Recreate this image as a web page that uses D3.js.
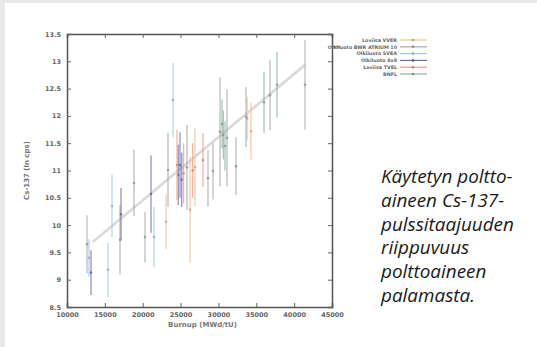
<!DOCTYPE html>
<html><head><meta charset="utf-8">
<script src="https://cdn.jsdelivr.net/npm/d3@7"></script>
<style>
html,body{margin:0;padding:0;background:#e9e9e9;}
svg{display:block;}
</style></head>
<body>
<svg id="c" width="537" height="347"></svg>
<script>
// ---- data ----
const xTicks = [10000, 15000, 20000, 25000, 30000, 35000, 40000, 45000];
const yTicks = [8.5, 9, 9.5, 10, 10.5, 11, 11.5, 12, 12.5, 13, 13.5];
const yTickLabels = ["8.5","9","9.5","10","10.5","11","11.5","12","12.5","13","13.5"];
const xLabel = "Burnup (MWd/tU)";
const yLabel = "Cs-137 (ln cps)";
const seriesNames = ["Loviisa VVER", "Olkiluoto BWR ATRIUM 10", "Olkiluoto SVEA", "Olkiluoto 8x8", "Loviisa TVEL", "BNFL"];

// series 1 (orange)
const s1Burnup = [23076, 26245, 26906, 33800, 34302];
const s1Value  = [10.06, 10.28, 11.06, 11.95, 11.72];
const s1Error  = [0.50, 0.97, 0.72, 0.40, 0.52];
// series 2 (gray)
const s2Burnup = [12642, 17000, 18849, 20302, 23340, 25849, 28623, 29284, 30208, 31132, 32321, 33642, 36812, 41435];
const s2Value  = [9.65, 9.73, 10.77, 9.78, 11.01, 11.06, 10.86, 10.99, 11.71, 11.60, 11.08, 11.98, 12.38, 12.57];
const s2Error  = [0.53, 0.64, 0.61, 0.46, 0.68, 0.78, 0.52, 0.52, 1.00, 0.89, 0.53, 0.55, 0.64, 0.82];
// series 3 (light blue)
const s3Burnup = [12906, 15415, 15943, 21491, 24000];
const s3Value  = [9.40, 9.18, 10.35, 9.78, 12.29];
const s3Error  = [0.34, 0.49, 0.57, 0.55, 0.68];
// series 4 (dark blue)
const s4Burnup = [13170, 17132, 21095, 24700, 24925, 25150];
const s4Value  = [9.13, 10.20, 10.57, 10.92, 11.10, 10.83];
const s4Error  = [0.41, 0.48, 0.71, 0.55, 0.60, 0.50];
// series 5 (salmon)
const s5Burnup = [24528, 25400, 26600, 27963];
const s5Value  = [11.10, 10.95, 11.00, 11.19];
const s5Error  = [0.64, 0.55, 0.50, 0.49];
// series 6 (green)
const s6Burnup = [30472, 30650, 30868, 36019, 37736];
const s6Value  = [11.85, 11.65, 11.45, 12.25, 12.57];
const s6Error  = [0.45, 0.45, 0.45, 0.56, 0.60];
// fit line
const fitBurnup = [13400, 41400];
const fitValue  = [9.69, 12.93];

const caption = ["Käytetyn poltto-", "aineen Cs-137-", "pulssitaajuuden", "riippuvuus", "polttoaineen", "palamasta."];

// ---- drawing ----
const colors = ["#f6bf8c", "#a8a8a8", "#9dcde0", "#7072b0", "#ec9c8a", "#86b996"];
const series = [
  [s1Burnup, s1Value, s1Error], [s2Burnup, s2Value, s2Error], [s3Burnup, s3Value, s3Error],
  [s4Burnup, s4Value, s4Error], [s5Burnup, s5Value, s5Error], [s6Burnup, s6Value, s6Error]
];

const svg = d3.select("#c");
svg.append("rect").attr("x", 5).attr("y", 3).attr("width", 532).attr("height", 344).attr("fill", "#fff");

const L = 67, R = 332, T = 34, B = 307;
const x = d3.scaleLinear().domain([10000, 45000]).range([L, R]);
const y = d3.scaleLinear().domain([8.5, 13.5]).range([B, T]);

const g = svg.append("g");
// fit line
g.append("path").attr("d", d3.line()(fitBurnup.map((b, i) => [x(b), y(fitValue[i])])))
  .attr("stroke", "#d4d4d4").attr("stroke-width", 2.8).attr("fill", "none").attr("opacity", 0.85);

series.forEach((s, k) => {
  const [bx, v, e] = s;
  const gg = g.append("g");
  bx.forEach((b, i) => {
    gg.append("line").attr("x1", x(b)).attr("x2", x(b)).attr("y1", y(v[i] - e[i])).attr("y2", y(v[i] + e[i]))
      .attr("stroke", colors[k]).attr("stroke-width", 1.3).attr("opacity", 0.75);
    gg.append("circle").attr("cx", x(b)).attr("cy", y(v[i])).attr("r", 1.3)
      .attr("fill", d3.color(colors[k]).darker(0.5)).attr("opacity", 0.75);
  });
});

// axes frame
const axB = d3.axisBottom(x).tickValues(xTicks).tickSize(-4).tickPadding(5).tickFormat(d => String(d));
const axT = d3.axisTop(x).tickValues(xTicks).tickSize(-4).tickFormat("");
const axL = d3.axisLeft(y).tickValues(yTicks).tickSize(-4).tickPadding(6).tickFormat((d, i) => yTickLabels[i]);
const axR = d3.axisRight(y).tickValues(yTicks).tickSize(-4).tickFormat("");
function style(sel) {
  sel.selectAll("path.domain").attr("stroke", "#555").attr("stroke-width", 1.5);
  sel.selectAll(".tick line").attr("stroke", "#666").attr("stroke-width", 1);
  sel.selectAll("text").attr("font-family", "DejaVu Sans, sans-serif").attr("font-size", 6.5).attr("fill", "#666").attr("font-weight", "bold");
}
style(svg.append("g").attr("transform", `translate(0,${B})`).call(axB));
style(svg.append("g").attr("transform", `translate(0,${T})`).call(axT));
style(svg.append("g").attr("transform", `translate(${L},0)`).call(axL));
style(svg.append("g").attr("transform", `translate(${R},0)`).call(axR));

svg.append("text").attr("x", (L + R) / 2 + 3).attr("y", 327).attr("text-anchor", "middle")
  .attr("font-family", "DejaVu Sans, sans-serif").attr("font-size", 7).attr("font-weight", "bold").attr("fill", "#777").text(xLabel);
svg.append("text").attr("transform", `translate(29,${(T + B) / 2}) rotate(-90)`).attr("text-anchor", "middle")
  .attr("font-family", "DejaVu Sans, sans-serif").attr("font-size", 7).attr("font-weight", "bold").attr("fill", "#777").text(yLabel);

// legend
const lg = svg.append("g");
seriesNames.forEach((n, k) => {
  const yy = 40 + k * 6.8;
  lg.append("text").attr("x", 397).attr("y", yy + 1.7).attr("text-anchor", "end")
    .attr("font-family", "DejaVu Sans, sans-serif").attr("font-size", 4.8).attr("font-weight", "bold").attr("fill", "#666").text(n);
  lg.append("line").attr("x1", 400).attr("x2", 427).attr("y1", yy).attr("y2", yy).attr("stroke", colors[k]).attr("stroke-width", 1.2);
  lg.append("circle").attr("cx", 413).attr("cy", yy).attr("r", 1.3).attr("fill", d3.color(colors[k]).darker(0.5));
});
lg.append("line").attr("x1", R).attr("x2", 340).attr("y1", 46.8).attr("y2", 46.8).attr("stroke", "#666").attr("stroke-width", 1);

// caption
const cap = svg.append("text").attr("font-family", "Open Sans, sans-serif").attr("font-style", "italic").attr("fill", "#1a1a1a");
caption.forEach((t, i) => cap.append("tspan").attr("x", 381).attr("y", 183 + i * 23.8).text(t));
cap.attr("font-size", 16);
const w = cap.select("tspan:nth-child(3)").node().getComputedTextLength();
cap.attr("font-size", 16 * 133 / w);
</script>
</body></html>
